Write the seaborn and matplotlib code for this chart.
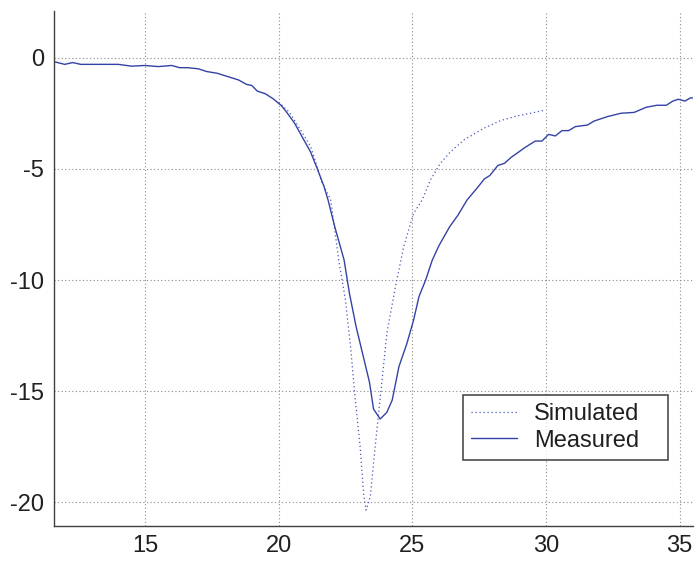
import numpy as np
import pandas as pd
import matplotlib
matplotlib.use("Agg")
import matplotlib.pyplot as plt
import seaborn as sns

meas_x = [11.6, 12.0, 12.3, 12.6, 13.0, 13.5, 14.0, 14.5, 15.0, 15.5, 16.0, 16.3, 16.6, 17.0, 17.3,
          17.7, 18.1, 18.5, 18.8, 19.0, 19.2, 19.5, 19.8, 20.1, 20.3, 20.6, 20.9, 21.2, 21.45, 21.7,
          21.85, 22.1, 22.45, 22.65, 22.9, 23.2, 23.4, 23.55, 23.8, 24.05, 24.25, 24.5, 24.8, 25.05,
          25.25, 25.5, 25.75, 26.0, 26.4, 26.7, 27.05, 27.4, 27.7, 27.9, 28.2, 28.45, 28.7, 28.95,
          29.2, 29.6, 29.85, 30.1, 30.35, 30.6, 30.85, 31.1, 31.55, 31.8, 32.3, 32.8, 33.3, 33.75,
          34.15, 34.5, 34.75, 34.95, 35.2, 35.4, 35.6]
meas_y = [-0.18, -0.3, -0.22, -0.3, -0.3, -0.3, -0.3, -0.38, -0.35, -0.4, -0.35, -0.45, -0.45, -0.5, -0.62,
          -0.7, -0.85, -1.0, -1.2, -1.25, -1.5, -1.62, -1.85, -2.15, -2.45, -2.95, -3.6, -4.25, -5.0, -5.8,
          -6.4, -7.6, -9.1, -10.6, -12.1, -13.6, -14.6, -15.8, -16.25, -15.95, -15.4, -13.9, -12.85, -11.8,
          -10.75, -10.0, -9.1, -8.45, -7.6, -7.1, -6.4, -5.9, -5.45, -5.3, -4.85, -4.75, -4.48, -4.27,
          -4.05, -3.75, -3.75, -3.45, -3.52, -3.28, -3.28, -3.1, -3.03, -2.85, -2.65, -2.5, -2.46, -2.23,
          -2.14, -2.14, -1.95, -1.87, -1.95, -1.81, -1.81]

sim_x = [20.0, 20.4, 20.8, 21.2, 21.4, 21.6, 21.95, 22.25, 22.5, 22.7, 22.87, 23.05, 23.18, 23.27,
         23.43, 23.55, 23.74, 23.87, 24.05, 24.37, 24.68, 25.05, 25.37, 25.68, 26.05, 26.43, 26.93,
         27.67, 28.3, 28.92, 29.54, 29.98]
sim_y = [-2.0, -2.45, -3.2, -4.0, -4.75, -5.55, -6.4, -9.1, -10.9, -13.1, -15.4, -17.5, -19.6, -20.35,
         -19.75, -18.25, -16.0, -14.5, -12.4, -10.3, -8.5, -7.0, -6.4, -5.5, -4.75, -4.23, -3.7,
         -3.18, -2.83, -2.62, -2.47, -2.35]

x_ticks = [15, 20, 25, 30, 35]
y_ticks = [-20, -15, -10, -5, 0]

sns.set_theme(style="white")
plt.rcParams['font.family'] = ['Liberation Sans', 'DejaVu Sans']
plt.rcParams['axes.unicode_minus'] = False

fig = plt.figure(figsize=(6.99, 5.65), dpi=100)
ax = fig.add_axes([54/699, 1 - 525.7/565, (693-54)/699, (525.7-11)/565])

color = "#3343a5"
df_sim = pd.DataFrame({"x": sim_x, "y": sim_y})
df_meas = pd.DataFrame({"x": meas_x, "y": meas_y})
sns.lineplot(data=df_sim, x="x", y="y", ax=ax, color="#4858b8", linestyle=(0, (1, 2.2)),
             linewidth=0.9, label="Simulated", sort=False)
sns.lineplot(data=df_meas, x="x", y="y", ax=ax, color=color, linestyle="-",
             linewidth=1.0, label="Measured", sort=False)

ax.set_xlim(11.6, 35.5)
ax.set_ylim(-21.05, 2.1)
ax.set_xticks(x_ticks)
ax.set_yticks(y_ticks)
ax.set_xlabel("")
ax.set_ylabel("")
ax.grid(True, linestyle=(0, (1, 2.2)), color="#8a8a8a", linewidth=0.8)
for s in ["top", "right"]:
    ax.spines[s].set_visible(False)
for s in ["left", "bottom"]:
    ax.spines[s].set_color("#404040")
    ax.spines[s].set_linewidth(1.0)
ax.tick_params(direction="in", length=6, width=1, color="#404040",
               labelsize=17, labelcolor="#202020", pad=7)

leg = ax.legend(loc="lower left", bbox_to_anchor=((463-54)/639, (525.7-460)/514.7,
                (668-463)/639, (460-393)/514.7), mode="expand",
                fontsize=17, frameon=True, fancybox=False, handlelength=1.95,
                borderaxespad=0, borderpad=0.35, labelspacing=0.18, handletextpad=0.7)
leg.get_frame().set_edgecolor("#202020")
leg.get_frame().set_linewidth(1.2)
for t in leg.get_texts():
    t.set_color("#202020")

fig.savefig("out.png", dpi=100)
